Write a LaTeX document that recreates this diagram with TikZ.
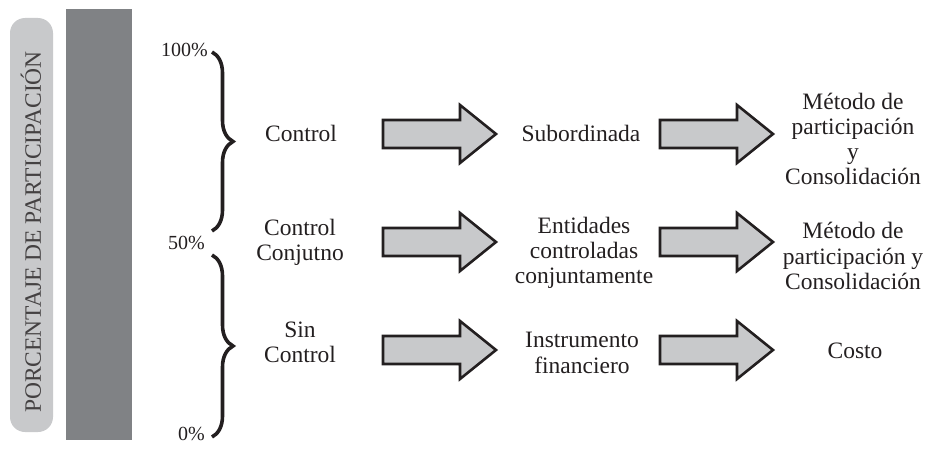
\documentclass[tikz,border=0pt]{standalone}
\usepackage{fontspec}
\setmainfont{Liberation Serif}
\usepackage{tikz}
\usetikzlibrary{positioning, decorations.pathreplacing}
\definecolor{lightbar}{HTML}{C8C9CB}
\definecolor{darkbar}{HTML}{808285}
\definecolor{ink}{HTML}{231F20}
\newcommand{\blockarrow}[2]{%
  \draw[barrow] (#1,#2) ++(0,-14) -- ++(77,0) -- ++(0,-15) -- ++(36,29)
    -- ++(-36,29) -- ++(0,-15) -- ++(-77,0) -- cycle;}

\begin{document}
\begin{tikzpicture}[x=1pt, y=-1pt,
    lbl/.style={align=center, text=ink, font=\fontsize{23.5}{25.2}\selectfont},
    pct/.style={anchor=east, inner sep=0pt, text=ink, font=\fontsize{20}{22}\selectfont},
    barrow/.style={draw=ink, line width=2.6pt, fill=lightbar, line join=miter},
    bracket/.style={draw=ink, line width=3.6pt, decorate, decoration={brace, amplitude=21pt}}]
    \useasboundingbox (0,0) rectangle (927,452);
    % side bars
    \fill[lightbar, rounded corners=15pt] (10,18) rectangle (53,432);
    \fill[darkbar] (66,9) rectangle (132,440);
    \node[rotate=90, text=ink!85, font=\fontsize{23.5}{25}\selectfont] (axis) at (31,232) {PORCENTAJE DE PARTICIPACIÓN};
    % percentages and braces
    \node[pct] (p100) at (208,50) {100\%};
    \node[pct] (p50) at (205,243) {50\%};
    \node[pct] (p0) at (205,434) {0\%};
    \draw[bracket] (212,52) -- (212,231);
    \draw[bracket] (212,255) -- (212,437);
    % first column
    \node[lbl] (ctrl) at (301,133) {Control};
    \node[lbl] (conj) at (300,242) {Control\\Conjutno};
    \node[lbl] (sinc) at (300,342) {Sin\\Control};
    % second column
    \node[lbl] (sub) at (581,133) {Subordinada};
    \node[lbl] (ent) at (584,253) {Entidades\\controladas\\conjuntamente};
    \node[lbl] (inst) at (582,353) {Instrumento\\financiero};
    % third column
    \node[lbl] (met1) at (853,139) {Método de\\participación\\y\\Consolidación};
    \node[lbl] (met2) at (853,256) {Método de\\participación y\\Consolidación};
    \node[lbl] (cost) at (855,351) {Costo};
    % arrows
    \foreach \y in {134,242,350} {
        \blockarrow{383}{\y}
        \blockarrow{660}{\y}
    }
\end{tikzpicture}
\end{document}
